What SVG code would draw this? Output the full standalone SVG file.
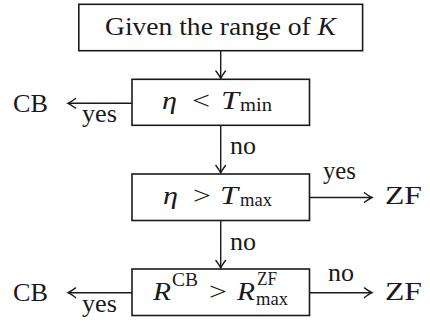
<svg xmlns="http://www.w3.org/2000/svg" width="430" height="324" viewBox="0 0 430 324">
<style>
.box{fill:#fff;stroke:#1a1a1a;stroke-width:1.6}
.ln{fill:none;stroke:#1a1a1a;stroke-width:1.4;marker-end:url(#ah)}
text{font-family:"Liberation Serif","Times New Roman",serif;font-size:26px;fill:#1a1a1a}
.it{font-style:italic}
.sm{font-size:18px}
</style>
<defs>
<marker id="ah" markerUnits="userSpaceOnUse" viewBox="-10 -6 12 12" refX="0" refY="0" markerWidth="12" markerHeight="12" orient="auto">
<path d="M-7.5,-4.8 Q-2.5,-1 0,0 Q-2.5,1 -7.5,4.8" fill="none" stroke="#1a1a1a" stroke-width="1.4" stroke-linecap="round"/>
</marker>
</defs>
<g id="connectors">
<line class="ln" x1="220.7" y1="50.7" x2="220.7" y2="78.5"/>
<line class="ln" x1="132" y1="103.3" x2="68" y2="103.3"/>
<line class="ln" x1="220.7" y1="125.5" x2="220.7" y2="173"/>
<line class="ln" x1="309" y1="197.5" x2="372" y2="197.5"/>
<line class="ln" x1="220.7" y1="220.5" x2="220.7" y2="268"/>
<line class="ln" x1="132" y1="292.7" x2="68" y2="292.7"/>
<line class="ln" x1="309" y1="292.7" x2="372" y2="292.7"/>
<text x="82" y="122" textLength="35" lengthAdjust="spacingAndGlyphs">yes</text>
<text x="230" y="154" textLength="26" lengthAdjust="spacingAndGlyphs">no</text>
<text x="323" y="179" textLength="33" lengthAdjust="spacingAndGlyphs">yes</text>
<text x="230" y="250" textLength="26" lengthAdjust="spacingAndGlyphs">no</text>
<text x="82" y="312" textLength="35" lengthAdjust="spacingAndGlyphs">yes</text>
<text x="328" y="281" textLength="26" lengthAdjust="spacingAndGlyphs">no</text>
</g>
<g id="start">
<rect class="box" x="78.8" y="4.3" width="283.8" height="46.4"/>
<text x="105" y="34.5" textLength="231" lengthAdjust="spacingAndGlyphs">Given the range of <tspan class="it">K</tspan></text>
</g>
<g id="test1">
<rect class="box" x="132" y="79.3" width="177.5" height="46"/>
<text class="it" x="162" y="109" textLength="15" lengthAdjust="spacingAndGlyphs">η</text>
<text x="192" y="109" textLength="18" lengthAdjust="spacingAndGlyphs">&lt;</text>
<text class="it" x="221" y="109" textLength="18" lengthAdjust="spacingAndGlyphs">T</text>
<text class="sm" x="240" y="111" textLength="32" lengthAdjust="spacingAndGlyphs">min</text>
</g>
<g id="test2">
<rect class="box" x="132" y="174" width="177.5" height="46.5"/>
<text class="it" x="163" y="204" textLength="15" lengthAdjust="spacingAndGlyphs">η</text>
<text x="193" y="204" textLength="18" lengthAdjust="spacingAndGlyphs">&gt;</text>
<text class="it" x="220" y="204" textLength="18" lengthAdjust="spacingAndGlyphs">T</text>
<text class="sm" x="240" y="206" textLength="32" lengthAdjust="spacingAndGlyphs">max</text>
</g>
<g id="test3">
<rect class="box" x="132" y="269" width="177.5" height="46.5"/>
<text class="it" x="153" y="300" textLength="18" lengthAdjust="spacingAndGlyphs">R</text>
<text class="sm" x="172" y="286" textLength="26" lengthAdjust="spacingAndGlyphs">CB</text>
<text x="209" y="300" textLength="18" lengthAdjust="spacingAndGlyphs">&gt;</text>
<text class="it" x="237" y="300" textLength="18" lengthAdjust="spacingAndGlyphs">R</text>
<text class="sm" x="257" y="285" textLength="20" lengthAdjust="spacingAndGlyphs">ZF</text>
<text class="sm" x="256" y="305" textLength="32" lengthAdjust="spacingAndGlyphs">max</text>
</g>
<g id="out-cb1"><text x="13" y="111.5" textLength="35" lengthAdjust="spacingAndGlyphs">CB</text></g>
<g id="out-zf1"><text x="385" y="203.5" textLength="37" lengthAdjust="spacingAndGlyphs">ZF</text></g>
<g id="out-cb2"><text x="13" y="301" textLength="35" lengthAdjust="spacingAndGlyphs">CB</text></g>
<g id="out-zf2"><text x="385" y="299.5" textLength="37" lengthAdjust="spacingAndGlyphs">ZF</text></g>
</svg>
